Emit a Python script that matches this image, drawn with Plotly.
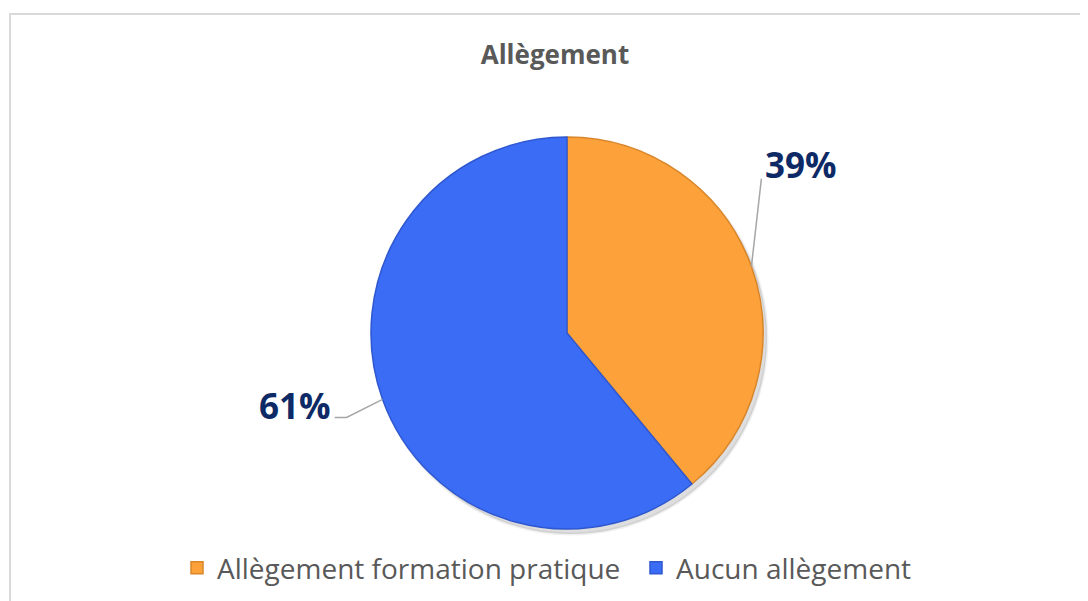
import math
import plotly.graph_objects as go

W, H = 1088, 601
OFF = 8  # page body margin in the browser

labels = ["Allègement formation pratique", "Aucun allègement"]
values = [39, 61]
colors = ["#FDA23B", "#3B6CF6"]
edge_colors = ["#D9862A", "#2F58CF"]
title = "Allègement"

# pie geometry in pixels (screen)
cx, cy, r = 567, 333, 196


def px(x):
    return (x - OFF) / W


def py(y):
    return 1 - (y - OFF) / H


fig = go.Figure()
# soft drop shadow behind the pie
sx, sy = 4, 5
fig.add_pie(
    labels=["shadow"], values=[1], showlegend=False, hoverinfo="skip",
    textinfo="none", sort=False,
    marker=dict(colors=["rgba(0,0,0,0.13)"], line=dict(width=3, color="rgba(0,0,0,0.06)")),
    domain=dict(x=[px(cx - r + sx), px(cx + r + sx)], y=[py(cy + r + sy), py(cy - r + sy)]),
)
fig.add_pie(
    labels=labels,
    values=values,
    sort=False,
    direction="clockwise",
    rotation=0,
    textinfo="none",
    hoverinfo="label+percent",
    marker=dict(colors=colors, line=dict(color=edge_colors, width=1.5)),
    domain=dict(x=[px(cx - r), px(cx + r)], y=[py(cy + r), py(cy - r)]),
)

# outside percentage labels with leader lines, anchored at each slice's mid-angle
total = sum(values)
start = 0.0
label_specs = [
    ((10, -88), 0, "right"),
    ((-36, 18), -12, "left"),
]
for v, (elbow, tail, side) in zip(values, label_specs):
    mid = (start + v / 2) / total * 2 * math.pi
    start += v
    ex = cx + r * math.sin(mid)
    ey = cy - r * math.cos(mid)
    bx, by = ex + elbow[0], ey + elbow[1]
    tx = bx + tail
    path = f"M {px(ex)},{py(ey)} L {px(bx)},{py(by)} L {px(tx)},{py(by)}"
    fig.add_shape(type="path", path=path, xref="paper", yref="paper",
                  line=dict(color="#A6A6A6", width=1.5))
    pct = f"{round(v / total * 100)}%"
    if side == "right":
        ax, ay, xa = tx + 2, by - 14, "left"
    else:
        ax, ay, xa = tx - 2, by - 12, "right"
    fig.add_annotation(x=px(ax), y=py(ay), xref="paper", yref="paper",
                       text=f"<b>{pct}</b>", showarrow=False,
                       xanchor=xa, yanchor="middle",
                       font=dict(family="Open Sans", size=35, color="#0E2A66"))

# chart border
fig.add_shape(type="rect", xref="paper", yref="paper",
              x0=px(10), y0=py(H + 20), x1=px(W + 20), y1=py(14),
              line=dict(color="#D9D9D9", width=2), fillcolor="rgba(0,0,0,0)")

fig.update_layout(
    width=W,
    height=H,
    margin=dict(l=0, r=0, t=0, b=0),
    paper_bgcolor="white",
    plot_bgcolor="white",
    title=dict(text=f"<b>{title}</b>", x=px(555), xanchor="center",
               y=py(55), yanchor="middle",
               font=dict(family="Open Sans", size=26, color="#595959")),
    legend=dict(orientation="h", x=px(177), xanchor="left",
                y=py(568), yanchor="middle", bgcolor="rgba(0,0,0,0)",
                font=dict(family="Open Sans", size=28, color="#595959"),
                itemwidth=30, entrywidth=414, traceorder="normal"),
)

fig.write_html("out.html")
